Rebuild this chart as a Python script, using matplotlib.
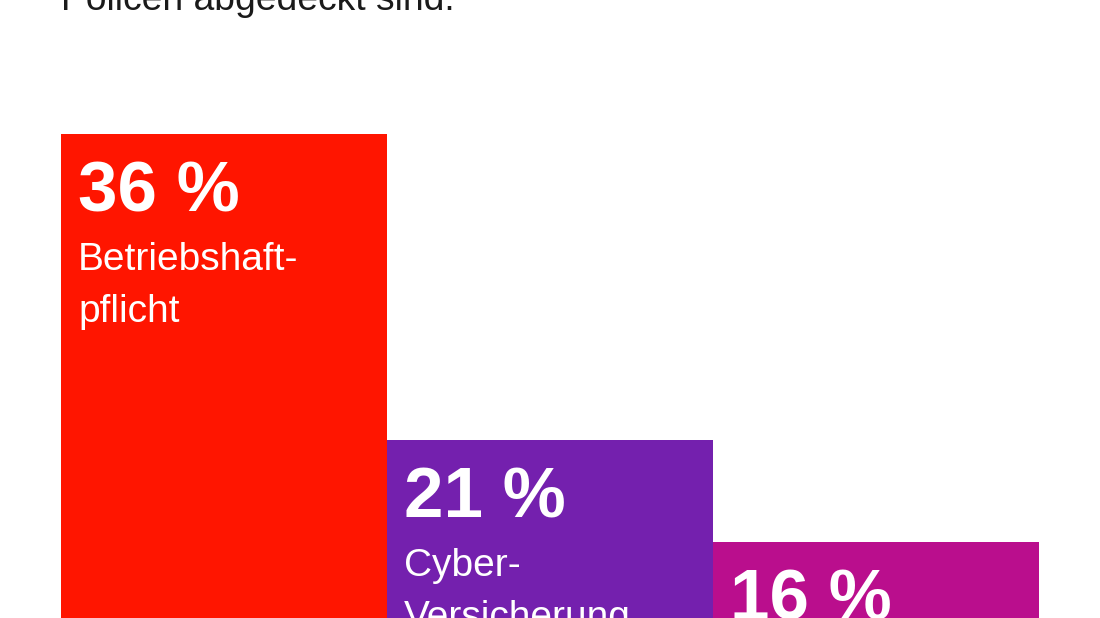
import matplotlib.pyplot as plt

plt.rcParams['font.family'] = ['Liberation Sans', 'DejaVu Sans']

# Daten
werte = [36, 21, 16]
kategorien = ['Betriebshaft-\npflicht', 'Cyber-\nVersicherung', 'Vermögensschaden-\nhaftpflicht']
farben = ['#FF1500', '#7420AE', '#BA0E8D']
titel = 'Policen abgedeckt sind.'

fig = plt.figure(figsize=(11, 6.18), dpi=100)
ax = fig.add_axes([0, 0, 1, 1])

x = range(len(werte))
bars = ax.bar(x, werte, width=1.0, color=farben, align='center', linewidth=0)

# Pixel -> Daten: 326 px pro Balken, 20.4 px pro Prozentpunkt
ax.set_xlim(-0.5 - 61 / 326, -0.5 - 61 / 326 + 1100 / 326)
ax.set_ylim((868 - 618) / 20.4, 868 / 20.4)
ax.axis('off')

px = 72 / 100  # Pixel in Punkte
for b, w, k in zip(bars, werte, kategorien):
    ax.annotate(f'{w} %', xy=(b.get_x(), w), xytext=(17 * px, -78 * px),
                textcoords='offset points', color='white', fontsize=51,
                fontweight='bold', va='baseline', ha='left')
    ax.annotate(k, xy=(b.get_x(), w), xytext=(17 * px, -108 * px),
                textcoords='offset points', color='white', fontsize=28,
                va='top', ha='left', linespacing=1.6)

fig.text(61 / 1100, 1 - 10 / 618, titel, fontsize=26.8, color='#1a1a1a',
         va='baseline', ha='left')

fig.savefig('out.png', dpi=100)
